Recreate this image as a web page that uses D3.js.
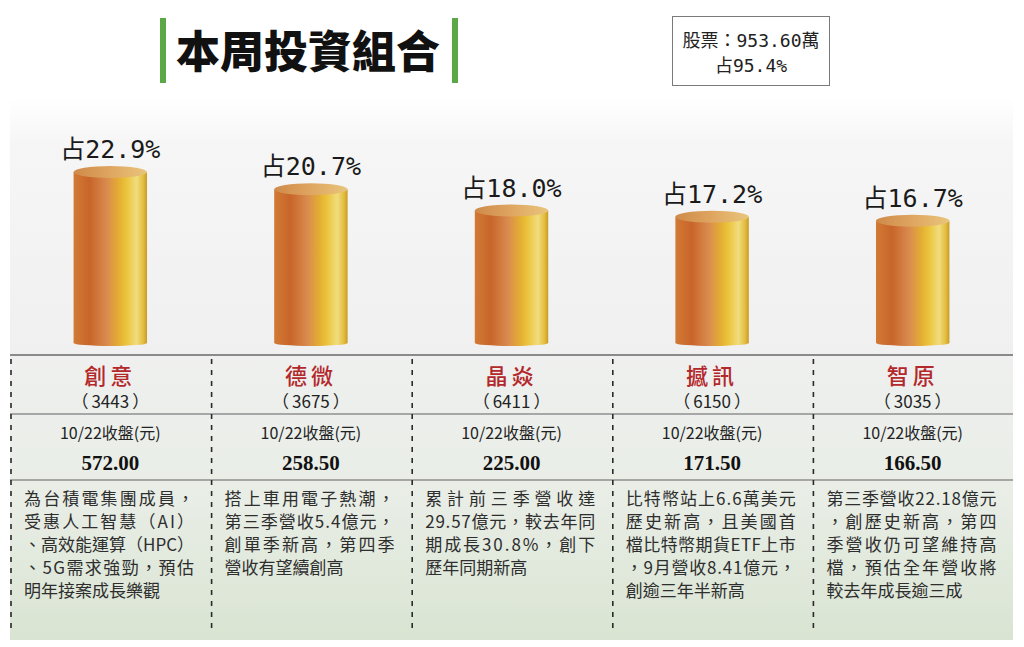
<!DOCTYPE html>
<html><head><meta charset="utf-8">
<script src="https://cdn.jsdelivr.net/npm/d3@7"></script>
<style>
html,body{margin:0;padding:0;background:#fff;}
svg{display:block;}
</style></head>
<body>
<svg id="chart" width="1024" height="647"></svg>
<script>
// ---- data ----
const titleText = "本周投資組合";
const boxLines = ["股票：953.60萬", "占95.4%"];
const names = ["創意", "德微", "晶焱", "撼訊", "智原"];
const codes = ["3443", "3675", "6411", "6150", "3035"];
const shares = [22.9, 20.7, 18.0, 17.2, 16.7];
const dateLabel = "10/22收盤(元)";
const prices = ["572.00", "258.50", "225.00", "171.50", "166.50"];
const notes = [
  ["為台積電集團成員，", "受惠人工智慧（AI）", "、高效能運算（HPC）", "、5G需求強勁，預估", "明年接案成長樂觀"],
  ["搭上車用電子熱潮，", "第三季營收5.4億元，", "創單季新高，第四季", "營收有望續創高"],
  ["累計前三季營收達", "29.57億元，較去年同", "期成長30.8%，創下", "歷年同期新高"],
  ["比特幣站上6.6萬美元", "歷史新高，且美國首", "檔比特幣期貨ETF上市", "，9月營收8.41億元，", "創逾三年半新高"],
  ["第三季營收22.18億元", "，創歷史新高，第四", "季營收仍可望維持高", "檔，預估全年營收將", "較去年成長逾三成"]
];

// ---- drawing ----
const svg = d3.select("#chart");
const defs = svg.append("defs");
const CJK = "'Noto Sans CJK TC','Noto Sans CJK SC',sans-serif";
const MONO = "'DejaVu Sans Mono','Noto Sans CJK TC',monospace";

const panel = {x0: 10, x1: 1013, y0: 98, y1: 640};

const bg = defs.append("linearGradient").attr("id", "bg").attr("x1", 0).attr("x2", 0).attr("y1", 0).attr("y2", 1);
[[0, "#ffffff"], [0.08, "#f6f6f6"], [0.47, "#eff0ef"], [0.75, "#e8ede5"], [1, "#d9e4d2"]]
  .forEach(([o, c]) => bg.append("stop").attr("offset", o).attr("stop-color", c));

const body = defs.append("linearGradient").attr("id", "cyl").attr("x1", 0).attr("x2", 1).attr("y1", 0).attr("y2", 0);
[[0, "#d27a35"], [0.22, "#c8652a"], [0.45, "#d98b4f"], [0.62, "#e4ae32"], [0.72, "#ebc43c"], [0.86, "#f1dc7e"], [0.95, "#e3bd3e"], [1, "#c99a27"]]
  .forEach(([o, c]) => body.append("stop").attr("offset", o).attr("stop-color", c));

const topG = defs.append("linearGradient").attr("id", "cyltop").attr("x1", 0).attr("x2", 1).attr("y1", 0).attr("y2", 0);
[[0, "#cf8a4a"], [0.5, "#dfa660"], [1, "#e9c57c"]]
  .forEach(([o, c]) => topG.append("stop").attr("offset", o).attr("stop-color", c));

svg.append("rect").attr("x", panel.x0).attr("y", panel.y0)
  .attr("width", panel.x1 - panel.x0).attr("height", panel.y1 - panel.y0)
  .attr("fill", "url(#bg)");

// title
svg.append("rect").attr("x", 160).attr("y", 18).attr("width", 6).attr("height", 65).attr("fill", "#5ca846");
svg.append("rect").attr("x", 452).attr("y", 18).attr("width", 6).attr("height", 65).attr("fill", "#5ca846");
svg.append("text").attr("x", 308).attr("y", 68).attr("text-anchor", "middle")
  .attr("font-family", CJK).attr("font-weight", 900).attr("font-size", 44)
  .attr("fill", "#111").text(titleText);

// box
svg.append("rect").attr("x", 672.5).attr("y", 16.5).attr("width", 157).attr("height", 69)
  .attr("fill", "#fff").attr("stroke", "#7a7a7a").attr("stroke-width", 1);
svg.selectAll("text.box").data(boxLines).join("text").attr("class", "box")
  .attr("x", 751).attr("y", (d, i) => 47 + i * 25).attr("text-anchor", "middle")
  .attr("font-family", MONO).attr("font-size", 18).attr("fill", "#222").text(d => d);

// scales
const x = d3.scaleBand().domain(names).range([panel.x0, panel.x1]).padding(0);
const y = d3.scaleLinear().domain([0, 25]).range([346, 149.5]);
const barW = x.bandwidth() * 0.366;
const ry = 6;

const rows = names.map((n, i) => ({name: n, code: codes[i], share: shares[i], price: prices[i], note: notes[i]}));

const g = svg.selectAll("g.bar").data(rows).join("g").attr("class", "bar");
g.append("rect")
  .attr("x", d => x(d.name) + x.bandwidth() / 2 - barW / 2)
  .attr("y", d => y(d.share) + ry)
  .attr("width", barW)
  .attr("height", d => y(0) - y(d.share) - ry - 3)
  .attr("fill", "url(#cyl)");
g.append("ellipse")
  .attr("cx", d => x(d.name) + x.bandwidth() / 2)
  .attr("cy", y(0) - 3)
  .attr("rx", barW / 2).attr("ry", 3)
  .attr("fill", "url(#cyl)");
g.append("ellipse")
  .attr("cx", d => x(d.name) + x.bandwidth() / 2)
  .attr("cy", d => y(d.share) + ry)
  .attr("rx", barW / 2).attr("ry", ry)
  .attr("fill", "url(#cyltop)");
g.append("text")
  .attr("x", d => x(d.name) + x.bandwidth() / 2)
  .attr("y", d => y(d.share) - 8)
  .attr("text-anchor", "middle")
  .attr("font-family", MONO).attr("font-size", 25).attr("fill", "#1a1a1a")
  .text(d => "占" + d.share.toFixed(1) + "%");

// table lines
[[355, 2, "#8a8a8a"], [414, 1.5, "#8f8f8f"], [480, 1.5, "#8f8f8f"]].forEach(([yy, w, c]) =>
  svg.append("line").attr("x1", panel.x0).attr("x2", panel.x1).attr("y1", yy).attr("y2", yy)
    .attr("stroke", c).attr("stroke-width", w));

svg.selectAll("line.div").data(names).join("line").attr("class", "div")
  .attr("x1", d => x(d) + 1).attr("x2", d => x(d) + 1)
  .attr("y1", 359).attr("y2", 628)
  .attr("stroke", "#2a2a2a").attr("stroke-width", 1.6).attr("stroke-dasharray", "5,6");

const cx = d => x(d.name) + x.bandwidth() / 2;
g.append("text").attr("x", cx).attr("y", 384).attr("text-anchor", "middle")
  .attr("font-family", CJK).attr("font-size", 22).attr("font-weight", 500)
  .attr("letter-spacing", 4).attr("fill", "#b3282b").text(d => d.name);
const codeT = g.append("text").attr("x", cx).attr("y", 408).attr("text-anchor", "middle")
  .attr("font-family", CJK).attr("font-size", 17).attr("fill", "#222");
codeT.append("tspan").text("（");
codeT.append("tspan").attr("dx", 3).text(d => d.code);
codeT.append("tspan").attr("dx", 3).text("）");
g.append("text").attr("x", cx).attr("y", 439).attr("text-anchor", "middle")
  .attr("font-family", CJK).attr("font-size", 16).attr("fill", "#222").text(dateLabel);
g.append("text").attr("x", cx).attr("y", 470).attr("text-anchor", "middle")
  .attr("font-family", "'Liberation Serif','DejaVu Serif',serif").attr("font-weight", "bold")
  .attr("font-size", 21).attr("fill", "#111").text(d => d.price);

g.each(function (d) {
  const sel = d3.select(this);
  d.note.forEach((line, k) => {
    const t = sel.append("text")
      .attr("x", x(d.name) + 14)
      .attr("y", 505 + k * 23)
      .attr("font-family", CJK).attr("font-size", 17).attr("fill", "#2e2e2e")
      .text(line);
    if (k < d.note.length - 1) t.attr("textLength", 170).attr("lengthAdjust", "spacing");
  });
});
</script>
</body></html>
